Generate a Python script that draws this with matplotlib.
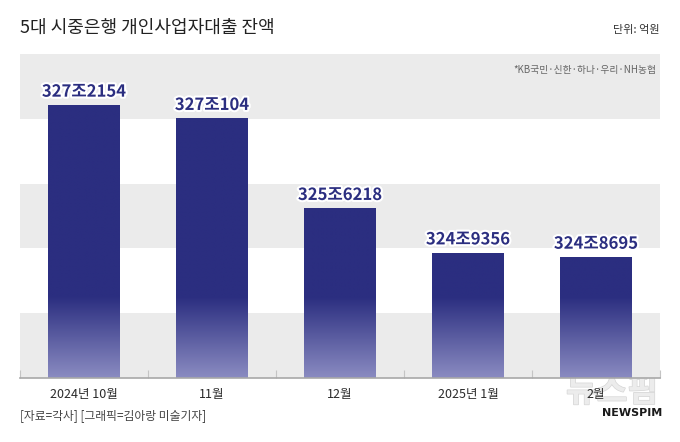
import numpy as np
import matplotlib
matplotlib.use("Agg")
import matplotlib.pyplot as plt
import matplotlib.patheffects as pe
from matplotlib.colors import LinearSegmentedColormap

plt.rcParams['font.family'] = ['Noto Sans CJK KR', 'DejaVu Sans']

categories = ["2024년 10월", "11월", "12월", "2025년 1월", "2월"]
values_eok = [3272154, 3270104, 3256218, 3249356, 3248695]   # 억원
value_labels = ["327조2154", "327조104", "325조6218", "324조9356", "324조8695"]
title = "5대 시중은행 개인사업자대출 잔액"
unit_text = "단위: 억원"
note_text = "*KB국민·신한·하나·우리·NH농협"
source_text = "[자료=각사] [그래픽=김아랑 미술기자]"

values_jo = [v / 10000 for v in values_eok]
y_min, y_max = 323, 328

fig = plt.figure(figsize=(6.8, 4.42), dpi=100)
ax = fig.add_axes([20/680, (442-378)/442, 640/680, 324/442])
ax.set_xlim(-0.5, len(categories) - 0.5)
ax.set_ylim(y_min, y_max)

# background bands
for lo in range(y_min, y_max):
    if (lo - y_min) % 2 == 0:
        ax.axhspan(lo, lo + 1, color="#ebebeb", zorder=0, lw=0)

dark = "#2b2e80"
light = "#8a8bc1"
cmap = LinearSegmentedColormap.from_list("g", [light, dark])
bw = 0.5625
x = np.arange(len(categories))
bars = ax.bar(x, [v - y_min for v in values_jo], bottom=y_min, width=bw,
              color=dark, zorder=2, lw=0)
grad_top = 324.25
for b, v in zip(bars, values_jo):
    n = 200
    ys = np.linspace(y_min, v, n)
    t = np.clip((ys - y_min) / (grad_top - y_min), 0, 1)
    img = t[::-1].reshape(-1, 1)
    im = ax.imshow(img, cmap=cmap, vmin=0, vmax=1, aspect="auto",
                   extent=(b.get_x(), b.get_x() + bw, y_min, v), zorder=3,
                   interpolation="bilinear")
    im.set_clip_path(b)

for xi, v, lab in zip(x, values_jo, value_labels):
    ax.annotate(lab, (xi, v), xytext=(0, 3), textcoords="offset points",
                ha="center", va="bottom", fontsize=12, fontweight="bold",
                color=dark, zorder=5,
                path_effects=[pe.withStroke(linewidth=3, foreground="white")])

for s in ["top", "left", "right"]:
    ax.spines[s].set_visible(False)
ax.spines["bottom"].set_color("#a8a8a8")
ax.spines["bottom"].set_linewidth(1.2)
ax.spines["bottom"].set_zorder(4)
ax.set_yticks([])
ax.set_xticks(np.arange(-0.5, len(categories)), minor=False)
ax.set_xticklabels([])
ax.tick_params(axis="x", direction="in", length=6, color="#c4c4c4", width=0.8)
for xi, c in zip(x, categories):
    ax.text(xi, -0.03, c, transform=ax.get_xaxis_transform(), ha="center",
            va="top", fontsize=9, color="#2a2a2a", zorder=6)

ax.text(0.995, 0.965, note_text, transform=ax.transAxes, ha="right", va="top",
        fontsize=7, color="#666666")

fig.text(20/680, 1 - 28/442, title, ha="left", va="center", fontsize=13,
         color="#222222")
fig.text(660/680, 1 - 30/442, unit_text, ha="right", va="center",
         fontsize=8, color="#333333")
fig.text(20/680, 1 - 416/442, source_text, ha="left", va="center",
         fontsize=8.5, color="#444444")

# watermark (logo)
fig.text(612/680, 1 - 392/442, "뉴스핌", ha="center", va="center",
         fontsize=24, fontweight="bold", color="#ececec", zorder=-1,
         path_effects=[pe.withStroke(linewidth=1, foreground="#d6d6d6")])
fig.text(662/680, 1 - 413/442, "NEWSPIM", ha="right", va="center",
         fontsize=8, fontweight="bold", color="#1a1a1a",
         family=["DejaVu Sans"])

fig.savefig("out.png", dpi=100)
